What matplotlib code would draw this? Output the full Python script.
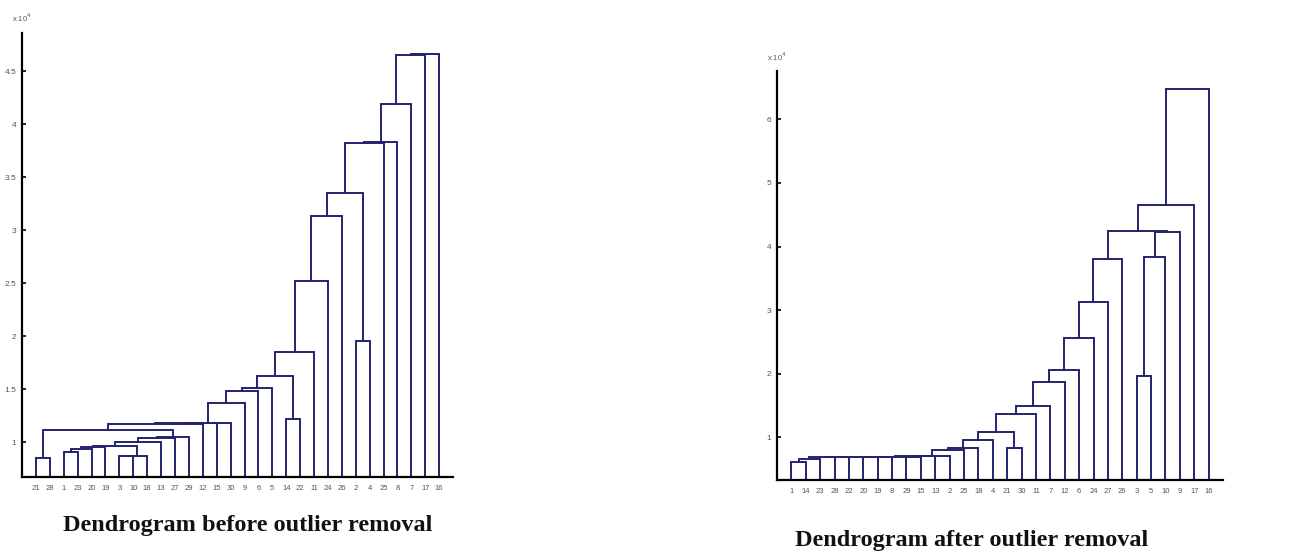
import matplotlib
matplotlib.use("Agg")
import matplotlib.pyplot as plt

# leaf labels, left to right, as ordered by the dendrogram
labels_before = [21, 28, 1, 23, 20, 19, 3, 10, 18, 13, 27, 29, 12, 15, 30,
                 9, 6, 5, 14, 22, 11, 24, 26, 2, 4, 25, 8, 7, 17, 16]
labels_after = [1, 14, 23, 28, 22, 20, 19, 8, 29, 15, 13, 2, 25, 18, 4,
                21, 30, 11, 7, 12, 6, 24, 27, 26, 3, 5, 10, 9, 17, 16]

# merges: leaves are 1..30 by position, new clusters are numbered 31, 32, ...
# heights are in units of 1e4
before_a = [1, 3, 32, 33, 7, 35, 34, 37, 38, 39, 31, 41, 42, 43, 44,
            45, 46, 19, 47, 49, 50, 51, 24, 52, 54, 55, 56, 57, 58]
before_b = [2, 4, 5, 6, 8, 9, 36, 10, 11, 12, 40, 13, 14, 15, 16,
            17, 18, 20, 48, 21, 22, 23, 25, 53, 26, 27, 28, 29, 30]
before_h = [0.853, 0.910, 0.935, 0.955, 0.865, 0.872, 0.965, 1.005, 1.040,
            1.045, 1.115, 1.175, 1.178, 1.182, 1.368, 1.485, 1.512, 1.218,
            1.623, 1.847, 2.520, 3.130, 1.954, 3.350, 3.820, 3.835, 4.190,
            4.650, 4.665]

after_a = [1, 31, 4, 32, 34, 35, 36, 9, 37, 39, 40, 41, 42, 43, 16,
           44, 46, 47, 48, 49, 50, 51, 52, 25, 54, 55, 53, 57, 58]
after_b = [2, 3, 5, 33, 6, 7, 8, 10, 38, 11, 12, 13, 14, 15, 17,
           45, 18, 19, 20, 21, 22, 23, 24, 26, 27, 28, 56, 29, 30]
after_h = [0.620, 0.665, 0.685, 0.690, 0.692, 0.694, 0.696, 0.690, 0.698,
           0.700, 0.705, 0.795, 0.835, 0.963, 0.830, 1.090, 1.370, 1.500,
           1.866, 2.066, 2.560, 3.130, 3.805, 1.966, 3.830, 4.226, 4.242,
           4.650, 6.470]

LINE = "#24246e"
TICK_FONT = ["Liberation Sans Narrow", "Liberation Sans", "DejaVu Sans"]


def dendrogram(ax, a_list, b_list, heights, labels):
    n = len(labels)
    xs = {i: float(i) for i in range(1, n + 1)}
    ys = {i: 0.0 for i in range(1, n + 1)}
    for k, (a, b, h) in enumerate(zip(a_list, b_list, heights)):
        ax.plot([xs[a], xs[a], xs[b], xs[b]], [ys[a], h, h, ys[b]],
                color=LINE, lw=1.4, solid_joinstyle="miter")
        node = n + 1 + k
        xs[node] = (xs[a] + xs[b]) / 2
        ys[node] = h
    ax.set_xlim(0, n + 1)
    ax.set_xticks(range(1, n + 1))
    ax.set_xticklabels([str(v) for v in labels], fontsize=5.5,
                       color="#555555", family=TICK_FONT)
    for side in ("top", "right"):
        ax.spines[side].set_visible(False)
    for side in ("left", "bottom"):
        ax.spines[side].set_linewidth(1.6)
    ax.tick_params(axis="both", direction="in", length=3, width=1.2,
                   pad=3)
    ax.tick_params(axis="y", labelsize=6, labelcolor="#555555", pad=4)
    ax.tick_params(axis="x", length=0, pad=6)
    for t in ax.get_yticklabels():
        t.set_family(TICK_FONT)


fig = plt.figure(figsize=(12.89, 5.55), dpi=100)

ax1 = fig.add_axes([0.0171, 0.1405, 0.3344, 0.80])
dendrogram(ax1, before_a, before_b, before_h, labels_before)
ax1.set_ylim(0.67, 4.86)
ax1.set_yticks([1, 1.5, 2, 2.5, 3, 3.5, 4, 4.5])
ax1.set_yticklabels(["1", "1.5", "2", "2.5", "3", "3.5", "4", "4.5"],
                    family=TICK_FONT)
ax1.text(0.0, 1.02, r"x 10$^4$", transform=ax1.transAxes, fontsize=5.5,
         color="#555555", ha="center", va="bottom", family=TICK_FONT)

ax2 = fig.add_axes([0.6028, 0.1351, 0.346, 0.737])
dendrogram(ax2, after_a, after_b, after_h, labels_after)
ax2.set_ylim(0.33, 6.76)
ax2.set_yticks([1, 2, 3, 4, 5, 6])
ax2.set_yticklabels(["1", "2", "3", "4", "5", "6"], family=TICK_FONT)
ax2.text(0.0, 1.02, r"x 10$^4$", transform=ax2.transAxes, fontsize=5.5,
         color="#555555", ha="center", va="bottom", family=TICK_FONT)

fig.text(0.192, 0.054, "Dendrogram before outlier removal",
         family="Liberation Serif", fontweight="bold", fontsize=17.5,
         ha="center", va="center", color="#111111")
fig.text(0.754, 0.027, "Dendrogram after outlier removal",
         family="Liberation Serif", fontweight="bold", fontsize=17.5,
         ha="center", va="center", color="#111111")

fig.savefig("out.png", dpi=100, facecolor="white")
